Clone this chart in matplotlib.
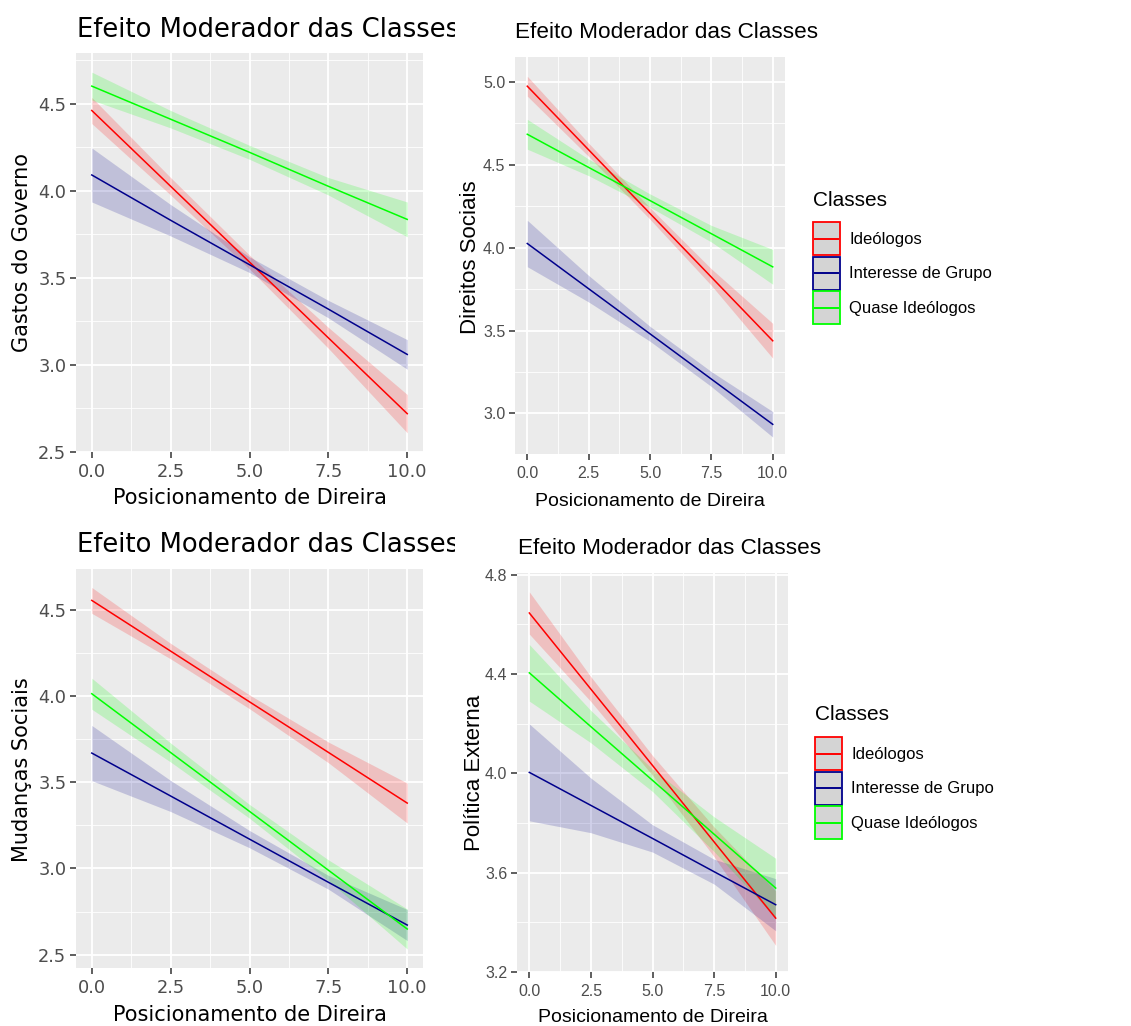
import matplotlib
matplotlib.use("Agg")
import matplotlib.pyplot as plt
from matplotlib.patches import Rectangle
from matplotlib.lines import Line2D
from matplotlib.transforms import Bbox, TransformedBbox

# ---------------- data ----------------
x_pts = [0, 2.5, 5, 7.5, 10]
classes = ["Ideólogos", "Interesse de Grupo", "Quase Ideólogos"]
class_colors = ["#FF0000", "#00008B", "#00FF00"]
x_ticks = [0, 2.5, 5, 7.5, 10]
x_ticklabels = ["0.0", "2.5", "5.0", "7.5", "10.0"]
title = "Efeito Moderador das Classes"
x_label = "Posicionamento de Direira"
legend_title = "Classes"

# Panel 1: Gastos do Governo
gastos_fit = {
    "Ideólogos": [4.46, 4.025, 3.59, 3.155, 2.72],
    "Interesse de Grupo": [4.09, 3.83, 3.575, 3.32, 3.06],
    "Quase Ideólogos": [4.60, 4.41, 4.22, 4.025, 3.835],
}
gastos_hw = {
    "Ideólogos": [0.075, 0.05, 0.04, 0.06, 0.11],
    "Interesse de Grupo": [0.155, 0.09, 0.045, 0.05, 0.085],
    "Quase Ideólogos": [0.08, 0.05, 0.04, 0.05, 0.10],
}
# Panel 2: Direitos Sociais
direitos_fit = {
    "Ideólogos": [4.974, 4.59, 4.206, 3.822, 3.438],
    "Interesse de Grupo": [4.025, 3.752, 3.48, 3.207, 2.934],
    "Quase Ideólogos": [4.684, 4.484, 4.284, 4.084, 3.884],
}
direitos_hw = {
    "Ideólogos": [0.06, 0.04, 0.035, 0.05, 0.105],
    "Interesse de Grupo": [0.14, 0.08, 0.045, 0.045, 0.077],
    "Quase Ideólogos": [0.09, 0.05, 0.04, 0.05, 0.105],
}
# Panel 3: Mudanças Sociais
mudancas_fit = {
    "Ideólogos": [4.554, 4.26, 3.966, 3.673, 3.379],
    "Interesse de Grupo": [3.669, 3.42, 3.17, 2.92, 2.672],
    "Quase Ideólogos": [4.013, 3.672, 3.331, 2.99, 2.649],
}
mudancas_hw = {
    "Ideólogos": [0.075, 0.045, 0.04, 0.06, 0.116],
    "Interesse de Grupo": [0.16, 0.09, 0.05, 0.04, 0.09],
    "Quase Ideólogos": [0.09, 0.055, 0.04, 0.06, 0.116],
}
# Panel 4: Política Externa
politica_fit = {
    "Ideólogos": [4.646, 4.339, 4.032, 3.724, 3.417],
    "Interesse de Grupo": [4.004, 3.871, 3.738, 3.604, 3.471],
    "Quase Ideólogos": [4.405, 4.188, 3.972, 3.755, 3.538],
}
politica_hw = {
    "Ideólogos": [0.085, 0.05, 0.04, 0.06, 0.11],
    "Interesse de Grupo": [0.195, 0.11, 0.055, 0.05, 0.105],
    "Quase Ideólogos": [0.114, 0.065, 0.045, 0.07, 0.12],
}

panels = [
    dict(fit=gastos_fit, hw=gastos_hw, ylabel="Gastos do Governo",
         yticks=[2.5, 3.0, 3.5, 4.0, 4.5], yminor=[2.75, 3.25, 3.75, 4.25, 4.75],
         ylim=(2.5, 4.79), rect=(76, 53, 423, 452), side="left",
         title_xy=(77, 30), xlabel_y=498, ylabel_xy=(22, 253), legend=None),
    dict(fit=direitos_fit, hw=direitos_hw, ylabel="Direitos Sociais",
         yticks=[3.0, 3.5, 4.0, 4.5, 5.0], yminor=[3.25, 3.75, 4.25, 4.75],
         ylim=(2.755, 5.15), rect=(515, 57, 785, 454), side="right",
         title_xy=(515, 32), xlabel_y=502, ylabel_xy=(471, 257), legend=(813, 200)),
    dict(fit=mudancas_fit, hw=mudancas_hw, ylabel="Mudanças Sociais",
         yticks=[2.5, 3.0, 3.5, 4.0, 4.5], yminor=[2.75, 3.25, 3.75, 4.25],
         ylim=(2.423, 4.736), rect=(76, 569, 423, 968), side="left",
         title_xy=(77, 545), xlabel_y=1015, ylabel_xy=(22, 770), legend=None),
    dict(fit=politica_fit, hw=politica_hw, ylabel="Política Externa",
         yticks=[3.2, 3.6, 4.0, 4.4, 4.8], yminor=[3.4, 3.8, 4.2, 4.6],
         ylim=(3.2, 4.807), rect=(517, 573, 788, 972), side="right",
         title_xy=(518, 548), xlabel_y=1017, ylabel_xy=(474, 773), legend=(815, 715)),
]

W, H = 1131, 1026
fig = plt.figure(figsize=(W / 100, H / 100), dpi=100)
fig.patch.set_facecolor("white")

def fx(px):
    return px / W

def fy(py):
    return 1 - py / H

left_font = ["DejaVu Sans"]
right_font = ["Liberation Sans", "DejaVu Sans"]


class KeyHandler:
    """ggplot-like key: grey box with coloured border and a centred line."""
    def legend_artist(self, legend, orig_handle, fontsize, handlebox):
        x0, y0 = handlebox.xdescent, handlebox.ydescent
        w, h = handlebox.width, handlebox.height
        col = orig_handle.get_color()
        tr = handlebox.get_transform()
        rect = Rectangle((-x0, -y0), w, h, facecolor="#D4D4D4", edgecolor=col,
                         linewidth=1.3, transform=tr)
        line = Line2D([-x0 + 0.08 * w, -x0 + 0.92 * w], [-y0 + h / 2] * 2,
                      color=col, linewidth=1.4, transform=tr)
        handlebox.add_artist(rect)
        handlebox.add_artist(line)
        return rect


for p in panels:
    x1, y1, x2, y2 = p["rect"]
    ax = fig.add_axes([fx(x1), fy(y2), fx(x2 - x1), (y2 - y1) / H])
    ax.set_facecolor("#EBEBEB")
    for s in ax.spines.values():
        s.set_visible(False)
    ax.set_xlim(-0.5, 10.5)
    ax.set_ylim(*p["ylim"])
    ax.set_xticks(x_ticks)
    ax.set_xticks([1.25, 3.75, 6.25, 8.75], minor=True)
    ax.set_yticks(p["yticks"])
    ax.set_yticks(p["yminor"], minor=True)
    left = p["side"] == "left"
    font = left_font if left else right_font
    tsize = 12.8 if left else 11.5
    ax.set_xticklabels(x_ticklabels, fontsize=tsize, color="#4D4D4D", family=font)
    ax.set_yticklabels([f"{v:.1f}" for v in p["yticks"]], fontsize=tsize,
                       color="#4D4D4D", family=font)
    ax.tick_params(which="major", length=4, width=1.1, color="#333333", pad=3)
    ax.tick_params(axis="x", which="major", pad=5 if not left else 4)
    ax.tick_params(which="minor", length=0)
    ax.grid(which="major", color="white", linewidth=1.3)
    ax.grid(which="minor", color="white", linewidth=0.6)
    ax.set_axisbelow(True)

    for cls, col in zip(classes, class_colors):
        fit = p["fit"][cls]
        hw = p["hw"][cls]
        lo = [f - h for f, h in zip(fit, hw)]
        hi = [f + h for f, h in zip(fit, hw)]
        ax.fill_between(x_pts, lo, hi, color=col, alpha=0.18, linewidth=0)
        ax.plot(x_pts, fit, color=col, linewidth=1.1)

    # title
    tx, ty = p["title_xy"]
    if left:
        t = fig.text(fx(tx), fy(ty), title, fontsize=18.6, family=left_font,
                     ha="left", va="center", color="black")
        clip = TransformedBbox(Bbox([[0, 0], [455 / W, 1]]), fig.transFigure)
        t.set_clip_box(clip)
        t.set_clip_on(True)
        fs_xlab, fs_ylab = 15, 15
    else:
        fig.text(fx(tx), fy(ty), title, fontsize=16.2, family=right_font,
                 ha="left", va="center", color="black")
        fs_xlab, fs_ylab = 14, 16
    # x label
    fig.text(fx((x1 + x2) / 2), fy(p["xlabel_y"]), x_label, fontsize=fs_xlab,
             family=font, ha="center", va="center", color="black")
    # y label
    lx, ly = p["ylabel_xy"]
    fig.text(fx(lx), fy(ly), p["ylabel"], fontsize=fs_ylab, family=font,
             rotation=90, ha="center", va="center", color="black")

    if p["legend"] is not None:
        lgx, lgy = p["legend"]
        fig.text(fx(lgx), fy(lgy), legend_title, fontsize=15, family=right_font,
                 ha="left", va="center", color="black")
        handles = [Line2D([0], [0], color=col) for col in class_colors]
        fig.legend(handles, classes, loc="upper left",
                   bbox_to_anchor=(fx(lgx), fy(lgy + 22)),
                   handler_map={Line2D: KeyHandler()},
                   frameon=False, handlelength=1.62, handleheight=2.67,
                   labelspacing=0.1, handletextpad=0.55,
                   borderpad=0, borderaxespad=0,
                   prop={"family": right_font, "size": 12})

fig.savefig("out.png", dpi=100, facecolor="white")
